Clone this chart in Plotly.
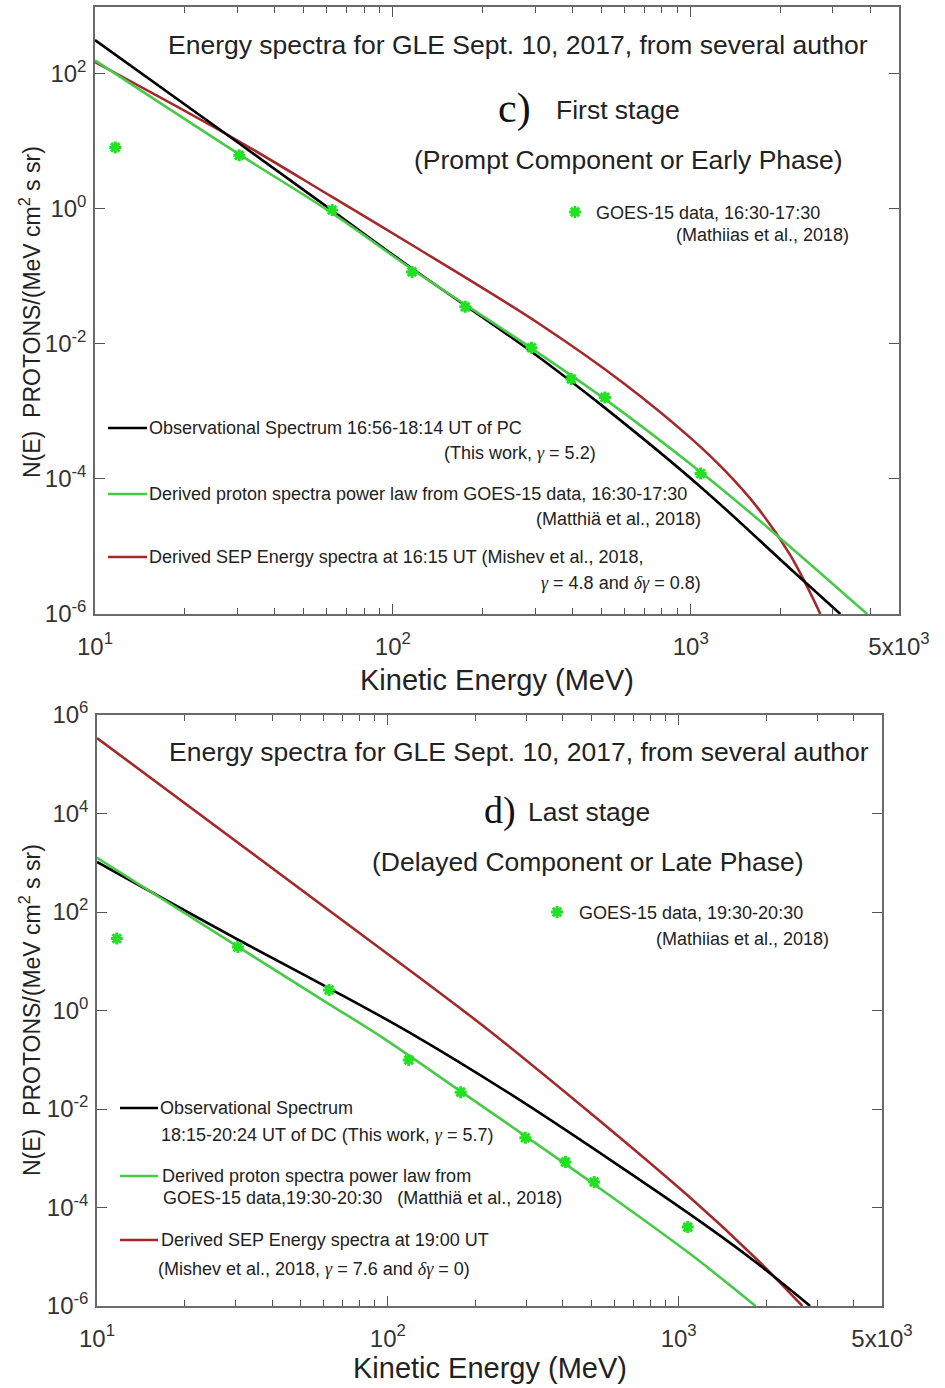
import math
import plotly.graph_objects as go

W, H = 945, 1388
SANS = "Liberation Sans, Arial, sans-serif"
SERIF = "Liberation Serif, Times New Roman, serif"

# ---------------- panel c: first stage (prompt component) ----------------
e_goes_c = [11.7, 30.5, 62.5, 116, 175, 292, 397, 515, 1079]
n_goes_c = [8.0, 6.1, 0.95, 0.115, 0.035, 8.7e-3, 3.0e-3, 1.6e-3, 1.2e-4]

e_obs_c = [10, 30.5, 62.5, 116, 292, 515, 1079, 2158, 3177]
n_obs_c = [309, 9.12, 0.933, 0.129, 7.59e-3, 1.12e-3, 7.59e-5, 4.68e-6, 1.0e-6]

e_fit_c = [10, 30.5, 62.5, 116, 292, 515, 1079, 1811, 3908]
n_fit_c = [155, 6.31, 0.851, 0.126, 8.51e-3, 1.51e-3, 1.26e-4, 1.91e-5, 1.0e-6]

e_sep_c = [10, 28.9, 62.5, 122, 308, 601, 1000, 1300, 1675, 2158, 2723]
n_sep_c = [146, 11.2, 1.48, 0.251, 0.020, 2.51e-3, 4.0e-4, 1.33e-4, 3.75e-5,
           7.41e-6, 1.0e-6]

# ---------------- panel d: last stage (delayed component) ----------------
e_goes_d = [11.7, 30.5, 62.8, 118, 178, 297, 408, 512, 1074]
n_goes_d = [29, 19.5, 2.6, 0.099, 0.022, 2.6e-3, 8.4e-4, 3.3e-4, 4.0e-5]

e_obs_d = [10, 30.9, 62.4, 118, 266, 585, 1256, 1866, 2831]
n_obs_d = [1035, 26.4, 2.89, 0.364, 0.0195, 9.04e-4, 4.08e-5, 7.29e-6, 1.0e-6]

e_fit_d = [10, 30.6, 62.8, 95.3, 175, 297, 515, 1099, 1837]
n_fit_d = [1259, 19.5, 1.35, 0.288, 0.0245, 2.82e-3, 2.88e-4, 1.12e-5, 1.0e-6]

e_sep_d = [10, 127.6, 245, 1099, 1866, 2661]
n_sep_d = [3.41e5, 4.79, 0.252, 1.56e-4, 8.59e-6, 1.0e-6]

# axis ticks
x_tickvals = [10, 100, 1000, 5000]
x_ticktext = ["10<sup>1</sup>", "10<sup>2</sup>", "10<sup>3</sup>", "5x10<sup>3</sup>"]
yc_exps = [-6, -4, -2, 0, 2]
yd_exps = [-6, -4, -2, 0, 2, 4, 6]

C_OBS = "#000000"
C_FIT = "#48ca48"
C_SEP = "#a3292b"
C_STAR = "#22e022"
LW = 2.6

fig = go.Figure()


def add_panel(xa, ya, e_obs, n_obs, e_fit, n_fit, e_sep, n_sep, e_goes, n_goes):
    for e, n, c in ((e_sep, n_sep, C_SEP), (e_obs, n_obs, C_OBS), (e_fit, n_fit, C_FIT)):
        fig.add_trace(go.Scatter(x=e, y=n, mode="lines", xaxis=xa, yaxis=ya,
                                 line=dict(color=c, width=LW, shape="spline", smoothing=1.0),
                                 showlegend=False, hoverinfo="skip"))
    fig.add_trace(go.Scatter(x=e_goes, y=n_goes, mode="markers", xaxis=xa, yaxis=ya,
                             marker=dict(symbol="asterisk", size=10, color=C_STAR,
                                         line=dict(color=C_STAR, width=3)),
                             showlegend=False, hoverinfo="skip"))


add_panel("x", "y", e_obs_c, n_obs_c, e_fit_c, n_fit_c, e_sep_c, n_sep_c, e_goes_c, n_goes_c)
add_panel("x2", "y2", e_obs_d, n_obs_d, e_fit_d, n_fit_d, e_sep_d, n_sep_d, e_goes_d, n_goes_d)


def px_x(px):
    return px / W


def px_y(py):
    return 1 - py / H


def x_axis(left, right, anchor):
    return dict(type="log", range=[1, math.log10(5000)], domain=[px_x(left), px_x(right)],
                anchor=anchor, automargin=False, showline=True, linecolor="#6a6a6a",
                linewidth=1.5, mirror="ticks", ticks="inside", ticklen=10, tickwidth=1.3,
                tickcolor="#555", tickmode="array", tickvals=x_tickvals, ticktext=x_ticktext,
                ticklabelstandoff=10,
                tickfont=dict(family=SANS, size=24, color="#333"),
                showgrid=False, zeroline=False,
                minor=dict(ticks="inside", ticklen=6, tickwidth=1.2, tickcolor="#555",
                           dtick="D1", showgrid=False))


def y_axis(top, bottom, anchor, exps, rng):
    return dict(type="log", range=rng, domain=[px_y(bottom), px_y(top)], anchor=anchor,
                automargin=False, showline=True, linecolor="#6a6a6a", linewidth=1.5,
                mirror="ticks", ticks="inside", ticklen=10, tickwidth=1.3, tickcolor="#555",
                tickmode="array", tickvals=[10.0 ** k for k in exps],
                ticktext=["10<sup>%d</sup>" % k for k in exps], ticklabelstandoff=2,
                tickfont=dict(family=SANS, size=24, color="#333"),
                showgrid=False, zeroline=False)


fig.update_layout(
    template="none",
    width=W, height=H, margin=dict(l=0, r=0, t=0, b=0, pad=0), autosize=False,
    paper_bgcolor="white", plot_bgcolor="rgba(0,0,0,0)", showlegend=False,
    xaxis=x_axis(95, 899, "y"),
    yaxis=y_axis(7, 614, "x", yc_exps, [-6, 2.98]),
    xaxis2=x_axis(97, 882, "y2"),
    yaxis2=y_axis(715, 1306, "x2", yd_exps, [-6, 6]),
)

annotations = []


def note(text, px, py, size, xanchor="left", family=SANS, color="#222", angle=0):
    annotations.append(dict(text=text, x=px_x(px), y=px_y(py), xref="paper", yref="paper",
                            xanchor=xanchor, yanchor="middle", showarrow=False, borderpad=0,
                            textangle=angle, font=dict(family=family, size=size, color=color)))


def g(s):
    return '<span style="font-family:%s"><i>%s</i></span>' % (SERIF.split(",")[0], s)


ytitle = "N(E)  PROTONS/(MeV cm<sup>2</sup> s sr)"
FT = 26.5
FL = 18

# panel c texts
note("Energy spectra for GLE Sept. 10, 2017, from several author", 518, 45, FT, "center")
note("c)", 514, 108, 42, "center", SERIF, "#111")
note("First stage", 555, 110, FT)
note("(Prompt Component or Early Phase)", 628, 160, FT, "center")
note("GOES-15 data, 16:30-17:30", 595, 213, FL)
note("(Mathiias et al., 2018)", 850, 235, FL, "right")
note("Observational Spectrum 16:56-18:14 UT of PC", 148, 428, FL)
note("(This work, " + g("γ") + " = 5.2)", 597, 453, FL, "right")
note("Derived proton spectra power law from GOES-15 data, 16:30-17:30", 148, 494, FL)
note("(Matthiä et al., 2018)", 702, 519, FL, "right")
note("Derived SEP Energy spectra at 16:15 UT (Mishev et al., 2018,", 148, 557, FL)
note(g("γ") + " = 4.8 and " + g("δγ") + " = 0.8)", 702, 583, FL, "right")
note("Kinetic Energy (MeV)", 497, 680, 29, "center")
note(ytitle, 30, 312, 23, "center", angle=-90)

# panel d texts
note("Energy spectra for GLE Sept. 10, 2017, from several author", 519, 752, FT, "center")
note("d)", 500, 810, 38, "center", SERIF, "#111")
note("Last stage", 527, 812, FT)
note("(Delayed Component or Late Phase)", 588, 862, FT, "center")
note("GOES-15 data, 19:30-20:30", 578, 913, FL)
note("(Mathiias et al., 2018)", 830, 939, FL, "right")
note("Observational Spectrum", 159, 1108, FL)
note("18:15-20:24 UT of DC (This work, " + g("γ") + " = 5.7)", 160, 1135, FL)
note("Derived proton spectra power law from", 161, 1176, FL)
note("GOES-15 data,19:30-20:30   (Matthiä et al., 2018)", 162, 1198, FL)
note("Derived SEP Energy spectra at 19:00 UT", 160, 1240, FL)
note("(Mishev et al., 2018, " + g("γ") + " = 7.6 and " + g("δγ") + " = 0)", 157, 1269, FL)
note("Kinetic Energy (MeV)", 490, 1368, 29, "center")
note(ytitle, 30, 1010, 23, "center", angle=-90)

fig.update_layout(annotations=annotations)

# legend samples: short line segments and the GOES star
shapes = []
for (x0, x1, py, c) in ((108, 147, 428, C_OBS), (108, 147, 494, C_FIT), (108, 147, 557, C_SEP),
                        (120, 158, 1108, C_OBS), (120, 158, 1176, C_FIT), (120, 158, 1240, C_SEP)):
    shapes.append(dict(type="line", xref="paper", yref="paper", x0=px_x(x0), x1=px_x(x1),
                       y0=px_y(py), y1=px_y(py), line=dict(color=c, width=LW)))
fig.update_layout(shapes=shapes)

for (px, py) in ((575, 212), (557, 912)):
    fig.add_trace(go.Scatter(x=[px_x(px)], y=[px_y(py)], xaxis="x3", yaxis="y3", mode="markers",
                             marker=dict(symbol="asterisk", size=10, color=C_STAR,
                                         line=dict(color=C_STAR, width=3)),
                             showlegend=False, hoverinfo="skip"))
fig.update_layout(
    xaxis3=dict(domain=[0, 1], range=[0, 1], visible=False, anchor="y3", fixedrange=True,
                automargin=False),
    yaxis3=dict(domain=[0, 1], range=[0, 1], visible=False, anchor="x3", fixedrange=True,
                automargin=False),
)

fig.write_html("out.html")
